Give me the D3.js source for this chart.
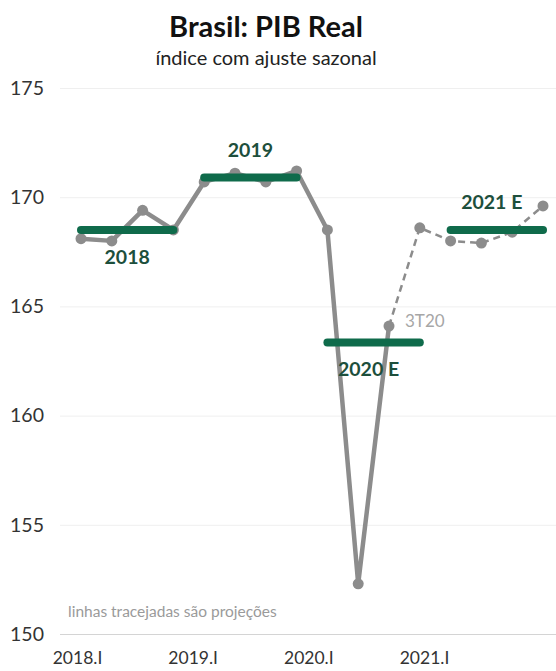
<!DOCTYPE html>
<html>
<head>
<meta charset="utf-8">
<script src="https://cdn.jsdelivr.net/npm/d3@7"></script>
<style>
  html, body { margin: 0; padding: 0; background: #fff; }
  svg { display: block; font-family: Lato, "Open Sans", sans-serif; }
</style>
</head>
<body>
<svg id="chart" width="556" height="671"></svg>
<script>
// Quarterly real GDP index (seasonally adjusted)
const quarters = ["2018.I","2018.II","2018.III","2018.IV",
                  "2019.I","2019.II","2019.III","2019.IV",
                  "2020.I","2020.II","2020.III","2020.IV",
                  "2021.I","2021.II","2021.III","2021.IV"];
const gdp = [168.1, 168.0, 169.4, 168.5,
             170.7, 171.1, 170.7, 171.2,
             168.5, 152.3, 164.1, 168.6,
             168.0, 167.9, 168.4, 169.6];
// last observed quarter; everything after it is a projection
const lastActual = "2020.III";

// Annual averages
const years = ["2018", "2019", "2020 E", "2021 E"];
const yearFirstQ = ["2018.I", "2019.I", "2020.I", "2021.I"];
const yearLastQ = ["2018.IV", "2019.IV", "2020.IV", "2021.IV"];
const annualAvg = [168.5, 170.9, 163.35, 168.5];
const labelSide = ["below", "above", "below", "above"];

const yTicks = [150, 155, 160, 165, 170, 175];
const xTickLabels = ["2018.I", "2019.I", "2020.I", "2021.I"];

const svg = d3.select("#chart");
const grey = "#8c8c8c";
const green = "#0f6b4b";
const greenText = "#1d4f3c";

const x = d3.scalePoint().domain(quarters).range([81, 543]);
const y = d3.scaleLinear().domain([150, 175]).range([634, 88]);
const xLab = d3.scalePoint().domain(xTickLabels).range([77, 424]);

// title
svg.append("text").attr("x", 266).attr("y", 37).attr("text-anchor", "middle")
  .attr("font-size", 29).attr("font-weight", "bold").attr("fill", "#111")
  .text("Brasil: PIB Real");
svg.append("text").attr("x", 266).attr("y", 65).attr("text-anchor", "middle")
  .attr("font-size", 20).attr("fill", "#222")
  .text("índice com ajuste sazonal");

// gridlines + y labels
const yAxis = svg.append("g").attr("transform", "translate(60,0)")
  .call(d3.axisLeft(y).tickValues(yTicks).tickSize(-496).tickPadding(16));
yAxis.select(".domain").remove();
yAxis.selectAll(".tick line")
  .attr("stroke", d => d === 150 ? "#d4d4d4" : "#efefef").attr("stroke-width", 1);
yAxis.selectAll(".tick text").attr("font-size", 19.5).attr("fill", "#333")
  .attr("font-family", "Lato, sans-serif");

// x labels
const xAxis = svg.append("g").attr("transform", "translate(0,648)")
  .call(d3.axisBottom(xLab).tickSize(0).tickPadding(4));
xAxis.select(".domain").remove();
xAxis.selectAll(".tick text").attr("font-size", 17.5).attr("fill", "#333")
  .attr("font-family", "Lato, sans-serif");

// footnote
svg.append("text").attr("x", 68).attr("y", 617).attr("font-size", 15.5)
  .attr("fill", "#9a9a9a").text("linhas tracejadas são projeções");

const pts = quarters.map((q, i) => ({ q, v: gdp[i] }));
const cut = quarters.indexOf(lastActual);
const line = d3.line().x(d => x(d.q)).y(d => y(d.v));

// actual: solid
svg.append("path").datum(pts.slice(0, cut + 1)).attr("d", line)
  .attr("fill", "none").attr("stroke", grey).attr("stroke-width", 4.5)
  .attr("stroke-linejoin", "round");
// projection: dashed
svg.append("path").datum(pts.slice(cut)).attr("d", line)
  .attr("fill", "none").attr("stroke", grey).attr("stroke-width", 2.5)
  .attr("stroke-dasharray", "7,5");

svg.append("g").selectAll("circle").data(pts).join("circle")
  .attr("cx", d => x(d.q)).attr("cy", d => y(d.v)).attr("r", 5.5)
  .attr("fill", grey);

// annual average bars
const ann = years.map((yr, i) => ({
  yr, a: yearFirstQ[i], b: yearLastQ[i], v: annualAvg[i], side: labelSide[i]
}));
svg.append("g").selectAll("line").data(ann).join("line")
  .attr("x1", d => x(d.a)).attr("x2", d => x(d.b))
  .attr("y1", d => y(d.v)).attr("y2", d => y(d.v))
  .attr("stroke", green).attr("stroke-width", 8).attr("stroke-linecap", "round");

svg.append("g").selectAll("text").data(ann).join("text")
  .attr("x", d => (x(d.a) + x(d.b)) / 2 - (d.yr.includes("E") ? 5 : 0))
  .attr("y", d => y(d.v) + (d.side === "below" ? 29 : -26))
  .attr("dominant-baseline", "middle")
  .attr("text-anchor", "middle").attr("font-size", 19.5).attr("font-weight", "bold")
  .attr("fill", greenText).text(d => d.yr);

// last actual point label
svg.append("text").attr("x", x(lastActual) + 16).attr("y", y(gdp[cut]) + 1)
  .attr("font-size", 17).attr("fill", "#a6a6a6").text("3T20");
</script>
</body>
</html>
